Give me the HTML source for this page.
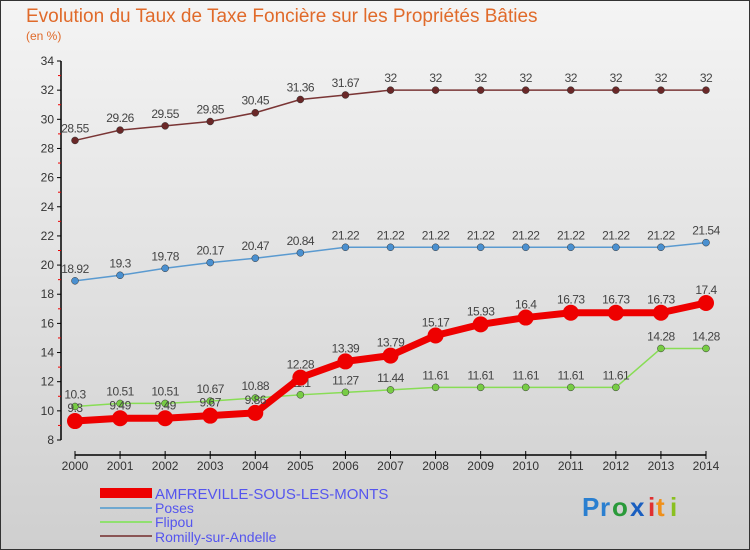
<!DOCTYPE html>
<html><head><meta charset="utf-8"><style>
body{margin:0;background:#fff}
#wrap{width:750px;height:550px;position:relative;overflow:hidden}
svg text{font-family:"Liberation Sans",sans-serif}
</style></head><body>
<div id="wrap">
<svg id="c" width="750" height="550" xmlns="http://www.w3.org/2000/svg">
<defs><linearGradient id="bg" x1="0" y1="0" x2="0" y2="1"><stop offset="0" stop-color="#f4f4f4"/><stop offset="1" stop-color="#cfcfcf"/></linearGradient></defs>
<rect x="0.5" y="0.5" width="749" height="549" fill="url(#bg)" stroke="#333"/>
<text x="26" y="22" font-size="19" fill="#e06a2a">Evolution du Taux de Taxe Foncière sur les Propriétés Bâties</text>
<text x="26" y="40" font-size="12" fill="#e06a2a">(en %)</text>
<g id="axes"></g><g id="series"></g>
<g>
<rect x="100" y="488" width="52" height="10" fill="#e00"/>
<text x="155" y="499" font-size="15" fill="#55e">AMFREVILLE-SOUS-LES-MONTS</text>
<rect x="100" y="507" width="52" height="2" fill="#6fa8d0"/>
<text x="155" y="513" font-size="14" fill="#55e">Poses</text>
<rect x="100" y="521" width="52" height="2" fill="#90e070"/>
<text x="155" y="527" font-size="14" fill="#55e">Flipou</text>
<rect x="100" y="535" width="52" height="2" fill="#8a5555"/>
<text x="155" y="542" font-size="14" fill="#55e">Romilly-sur-Andelle</text>
</g>
<g font-size="26" font-weight="bold">
<text x="582" y="516" fill="#2a7fd0">P</text><text x="600" y="516" fill="#2a7fd0">r</text><text x="612" y="516" fill="#2a9a3a">o</text><text x="630" y="516" fill="#1a5fc0">x</text><text x="648" y="516" fill="#e03030">i</text><text x="656" y="516" fill="#f0901a">t</text><text x="670" y="516" fill="#8ac020">i</text>
</g>
</svg></div>
<script>
const years=[2000,2001,2002,2003,2004,2005,2006,2007,2008,2009,2010,2011,2012,2013,2014];
const yTicks=[8,10,12,14,16,18,20,22,24,26,28,30,32,34];
const amfreville=[9.3,9.49,9.49,9.67,9.86,12.28,13.39,13.79,15.17,15.93,16.4,16.73,16.73,16.73,17.4];
const poses=[18.92,19.3,19.78,20.17,20.47,20.84,21.22,21.22,21.22,21.22,21.22,21.22,21.22,21.22,21.54];
const flipou=[10.3,10.51,10.51,10.67,10.88,11.1,11.27,11.44,11.61,11.61,11.61,11.61,11.61,14.28,14.28];
const romilly=[28.55,29.26,29.55,29.85,30.45,31.36,31.67,32,32,32,32,32,32,32,32];
const NS="http://www.w3.org/2000/svg";
const xS=i=>75+i*(706-75)/(years.length-1);
const yS=v=>440-(v-8)*(440-61)/26;
function mk(tag,at,parent){const e=document.createElementNS(NS,tag);for(const k in at)e.setAttribute(k,at[k]);parent.appendChild(e);return e;}
const ax=document.getElementById('axes');
let a=mk('line',{x1:61,y1:61,x2:61,y2:440,stroke:'#000','stroke-width':1.5},ax);


a=mk('line',{x1:75,y1:455,x2:706,y2:455,stroke:'#000','stroke-width':1.5},ax);


yTicks.forEach(t=>{const y=yS(t);
 mk('line',{x1:57,y1:y,x2:61,y2:y,stroke:'#000'},ax);
 if(t<34) mk('line',{x1:58,y1:yS(t+1),x2:61,y2:yS(t+1),stroke:'#e00'},ax);
 const tx=mk('text',{x:54,y:y+4,'font-size':12,'text-anchor':'end',fill:'#333'},ax);tx.textContent=t;
 
 });
years.forEach((yr,i)=>{const x=xS(i);
 mk('line',{x1:x,y1:451,x2:x,y2:459,stroke:'#000'},ax);
 const tx=mk('text',{x:x,y:470,'font-size':12,'text-anchor':'middle',fill:'#333'},ax);tx.textContent=yr;
 
 });
const sg=document.getElementById('series');
function series(name,vals,color,w,r,dot,lblOff){
 const g=mk('g',{},sg);
 
 
 mk('polyline',{points:vals.map((v,i)=>xS(i)+','+yS(v)).join(' '),fill:'none',stroke:color,'stroke-width':w,'stroke-linejoin':'round'},g);
 vals.forEach((v,i)=>{const c=mk('circle',{cx:xS(i),cy:yS(v),r:r,fill:dot,stroke:r>4?'none':'#333','stroke-width':0.5},g);
  
  
  const t=mk('text',{x:xS(i),y:yS(v)+lblOff,'font-size':12,'text-anchor':'middle',fill:'#444','letter-spacing':'-0.5'},g);t.textContent=v;
  
  });
}
series('romilly',romilly,'#7a3535',1.5,3.5,'#6a2828',-8);
series('poses',poses,'#5a9ad0',1.5,3.5,'#4a90d0',-8);
series('flipou',flipou,'#88dd55',1.5,3.5,'#77cc44',-8);
series('amfreville',amfreville,'#ee0000',7,8,'#ee0000',-9);
</script>
</body></html>
